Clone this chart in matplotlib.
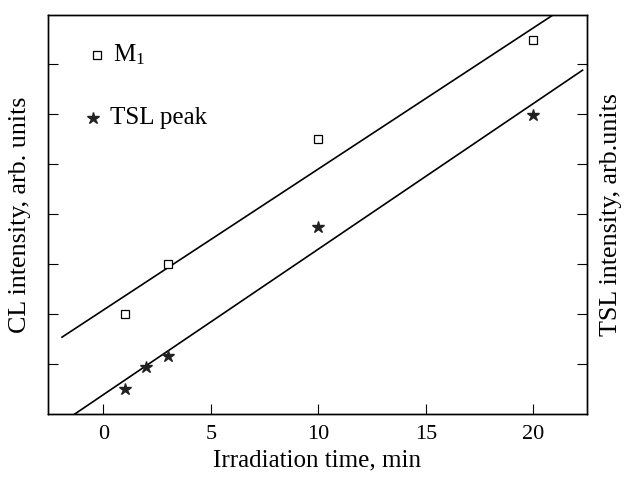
import matplotlib
matplotlib.use("Agg")
import matplotlib.pyplot as plt
import numpy as np

plt.rcParams['font.family'] = ['Liberation Serif', 'DejaVu Serif']
plt.rcParams['mathtext.fontset'] = 'custom'
plt.rcParams['mathtext.rm'] = 'Liberation Serif'
plt.rcParams['mathtext.it'] = 'Liberation Serif'

# Data
m1_x = [1, 3, 10, 20]
m1_y = [2.0, 3.0, 5.5, 7.48]
tsl_x = [1, 2, 3, 10, 20]
tsl_y = [0.5, 0.94, 1.16, 3.74, 5.98]

# Linear fits (slope, intercept, x-range)
m1_fit = (0.282, 2.08, -1.93, 20.9)
tsl_fit = (0.291, 0.387, -1.33, 22.3)

x_ticks = [0, 5, 10, 15, 20]
y_ticks = [1, 2, 3, 4, 5, 6, 7]

fig = plt.figure(figsize=(6.27, 4.78), dpi=100)
ax = fig.add_axes([0.0766, 0.134, 0.8594, 0.8346])

for s, b, x0, x1 in (m1_fit, tsl_fit):
    xs = np.array([x0, x1])
    ax.plot(xs, b + s * xs, color='black', lw=1.2)

ax.plot(m1_x, m1_y, linestyle='none', marker='s', markersize=6,
        markerfacecolor='white', markeredgecolor='black', markeredgewidth=0.9)
ax.plot(tsl_x, tsl_y, linestyle='none', marker='*', markersize=9,
        color='#222222')

ax.set_xlim(-2.58, 22.5)
ax.set_ylim(0, 7.98)
ax.set_xticks(x_ticks)
ax.set_yticks(y_ticks)
ax.set_yticklabels([])
ax.tick_params(axis='x', direction='in', length=7, labelsize=16, pad=8)

ax.set_xlabel('Irradiation time, min', fontsize=18, labelpad=4)
ax.set_ylabel('CL intensity, arb. units', fontsize=18.7, labelpad=9)
ax2 = ax.twinx()
ax2.set_ylim(0, 7.98)
ax2.set_yticks(y_ticks)
ax2.set_yticklabels([])
ax2.tick_params(axis='y', direction='in', length=7)
ax2.set_ylabel('TSL intensity, arb.units', fontsize=18.7, labelpad=6)
ax.tick_params(axis='y', direction='in', length=7, left=True, right=False)
for a in (ax, ax2):
    for sp in a.spines.values():
        sp.set_linewidth(1.0)

# Legend
ax.plot([0.0916], [0.9], transform=ax.transAxes, marker='s', markersize=6,
        markerfacecolor='white', markeredgecolor='black', markeredgewidth=0.9,
        linestyle='none', clip_on=False)
ax.text(0.12, 0.9, 'M$_1$', transform=ax.transAxes, fontsize=18, va='center')
ax.plot([0.084], [0.7406], transform=ax.transAxes, marker='*', markersize=9,
        color='#222222', linestyle='none', clip_on=False)
ax.text(0.115, 0.7406, 'TSL peak', transform=ax.transAxes, fontsize=18, va='center')

fig.savefig('out.png', dpi=100)
